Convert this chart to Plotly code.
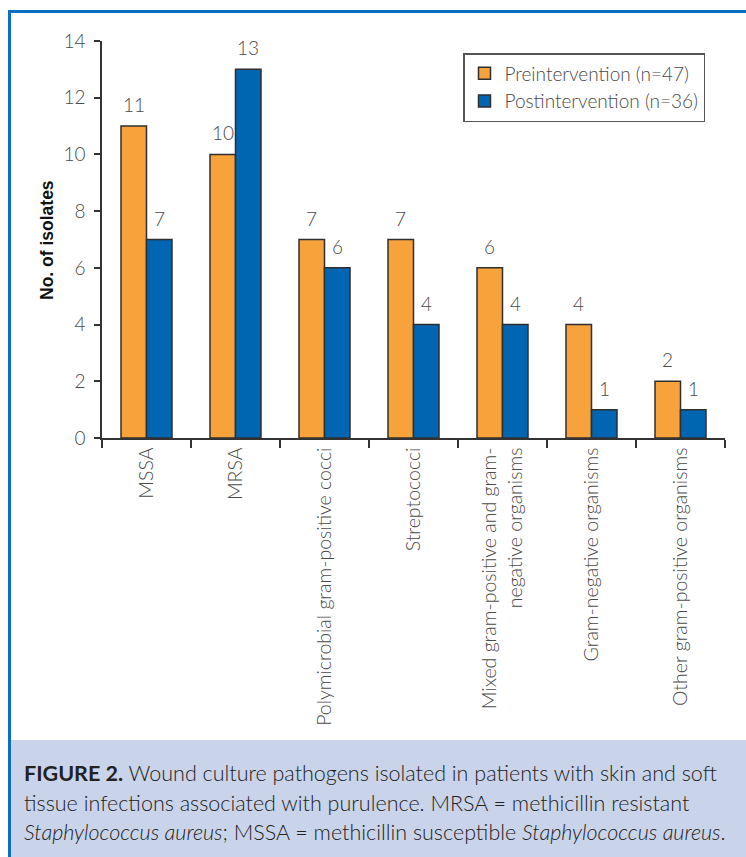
import plotly.graph_objects as go

categories = [
    "MSSA",
    "MRSA",
    "Polymicrobial gram-positive cocci",
    "Streptococci",
    "Mixed gram-positive and gram-<br>negative organisms",
    "Gram-negative organisms",
    "Other gram-positive organisms",
]
pre_values = [11, 10, 7, 7, 6, 4, 2]
post_values = [7, 13, 6, 4, 4, 1, 1]
pre_name = "Preintervention (n=47)"
post_name = "Postintervention (n=36)"
y_ticks = [0, 2, 4, 6, 8, 10, 12, 14]
caption_lines = [
    "<b>FIGURE 2.</b> Wound culture pathogens isolated in patients with skin and soft",
    "tissue infections associated with purulence. MRSA = methicillin resistant",
    "<i>Staphylococcus aureus</i>; MSSA = methicillin susceptible <i>Staphylococcus aureus</i>.",
]

W, H = 746, 857
L, R, T, B = 102, 725, 41, 438
FONT = "Lato"
GREY = "#4a4a4a"
ORANGE = "#f7a23b"
BLUE = "#0066b2"
EDGE = "#2f2f2f"


def px(x):
    return (x - L) / (R - L)


def py(y):
    return (B - y) / (B - T)


fig = go.Figure()
fig.add_trace(go.Bar(x=categories, y=pre_values, name=pre_name,
                     marker=dict(color=ORANGE, line=dict(color=EDGE, width=1.5))))
fig.add_trace(go.Bar(x=categories, y=post_values, name=post_name,
                     marker=dict(color=BLUE, line=dict(color=EDGE, width=1.5))))

annotations = []
bw = 25.5
for c, v in zip(categories, pre_values):
    annotations.append(dict(x=c, y=v, xref="x", yref="y", text=str(v), showarrow=False,
                            xshift=-bw / 2, yshift=8, yanchor="bottom",
                            font=dict(family=FONT, size=19, color=GREY, weight=300)))
for c, v in zip(categories, post_values):
    annotations.append(dict(x=c, y=v, xref="x", yref="y", text=str(v), showarrow=False,
                            xshift=bw / 2, yshift=8, yanchor="bottom",
                            font=dict(family=FONT, size=19, color=GREY, weight=300)))

annotations.append(dict(x=px(47), y=py(240), xref="paper", yref="paper", text="<b>No. of isolates</b>",
                        textangle=-90, showarrow=False, xanchor="center", yanchor="middle",
                        font=dict(family="Liberation Sans", size=17.5, color="#111")))

for i, (line, yc) in enumerate(zip(caption_lines, [773, 803, 832])):
    annotations.append(dict(x=px(22), y=py(yc), xref="paper", yref="paper", text=line,
                            showarrow=False, xanchor="left", yanchor="middle", align="left",
                            font=dict(family=FONT, size=21.5, color="#222", weight=300)))

shapes = [
    dict(type="rect", xref="paper", yref="paper", x0=px(11), x1=px(746), y0=py(740), y1=py(857),
         fillcolor="#c9d4ea", line=dict(width=0), layer="below"),
    dict(type="line", xref="paper", yref="paper", x0=px(8), x1=px(746), y0=py(11.5), y1=py(11.5),
         line=dict(color="#0a6fc0", width=3)),
    dict(type="line", xref="paper", yref="paper", x0=px(9.5), x1=px(9.5), y0=py(10), y1=py(857),
         line=dict(color="#0a6fc0", width=3)),
]

fig.update_layout(
    width=W, height=H,
    margin=dict(l=L, r=W - R, t=T, b=H - B, pad=0),
    paper_bgcolor="white", plot_bgcolor="white",
    barmode="group", bargap=0.427, bargroupgap=0,
    font=dict(family=FONT, color=GREY),
    showlegend=True,
    legend=dict(x=px(463), y=py(53), xanchor="left", yanchor="top",
                bgcolor="white", bordercolor="#555", borderwidth=1.5,
                font=dict(family=FONT, size=19, color=GREY, weight=300),
                tracegroupgap=2, itemwidth=30),
    annotations=annotations,
    shapes=shapes,
    xaxis=dict(showline=True, linecolor="#333", linewidth=1.5, ticks="outside",
               tickson="boundaries", ticklen=8, tickwidth=1.5, tickcolor="#333",
               tickangle=-90, tickfont=dict(family=FONT, size=19.5, color=GREY, weight=300),
               showgrid=False, zeroline=False),
    yaxis=dict(range=[0, 14], tickvals=y_ticks, showline=True, linecolor="#333", linewidth=1.5,
               ticks="outside", ticklen=6, tickwidth=1.5, tickcolor="#333", ticklabelstandoff=5,
               tickfont=dict(family=FONT, size=19, color=GREY, weight=300),
               showgrid=False, zeroline=False),
)

fig.write_html("out.html")
